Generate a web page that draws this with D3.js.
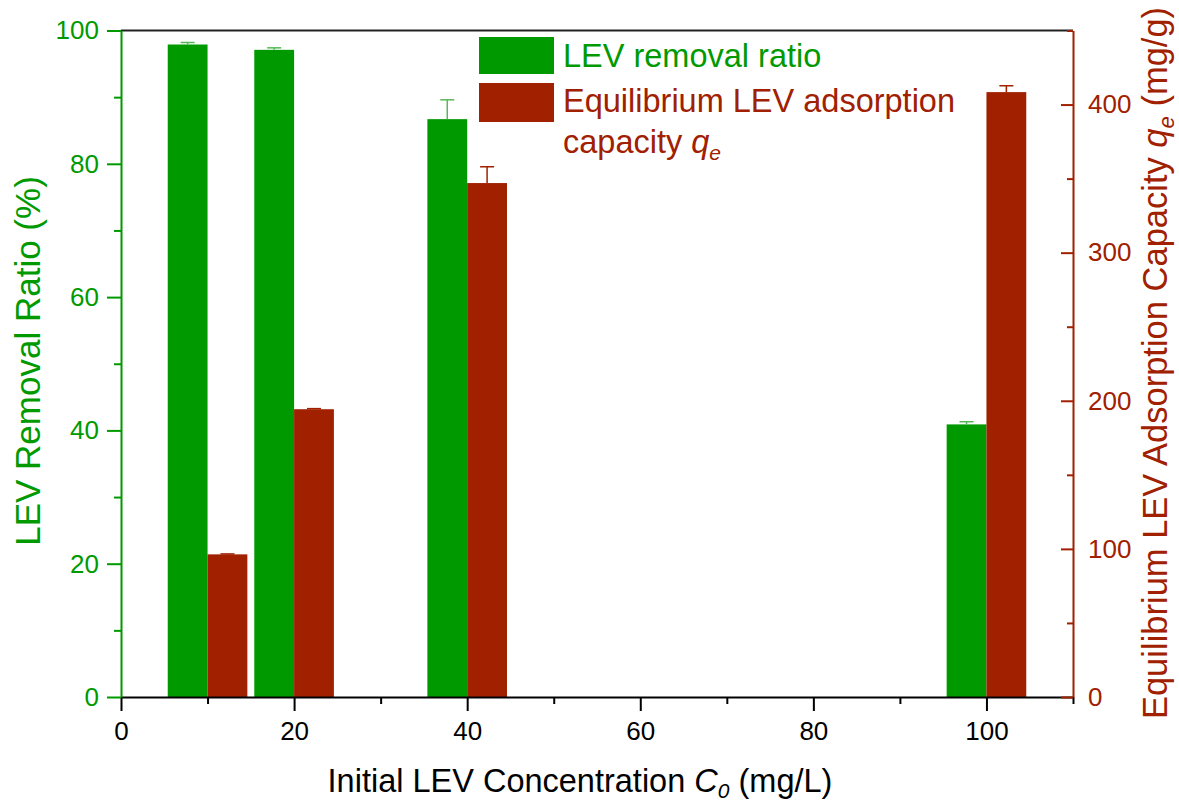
<!DOCTYPE html>
<html>
<head>
<meta charset="utf-8">
<script src="https://cdn.jsdelivr.net/npm/d3@7"></script>
<style>
  html, body { margin: 0; padding: 0; background: #fff; }
  svg { display: block; font-family: "Liberation Sans", Arial, sans-serif; }
</style>
</head>
<body>
<svg id="chart" width="1179" height="801"></svg>
<script>
// Initial LEV concentration (mg/L)
const concentrations = [10, 20, 40, 100];
// LEV removal ratio (%) and its error
const removalRatio = [97.9, 97.1, 86.7, 40.9];
const removalErr = [0.3, 0.3, 2.9, 0.4];
// Equilibrium adsorption capacity qe (mg/g) and its error
const capacity = [96.3, 194.3, 347, 408.4];
const capacityErr = [0.3, 0.4, 11, 4.3];

const xMajorTicks = [0, 20, 40, 60, 80, 100];
const xMinorTicks = [10, 30, 50, 70, 90, 110];
const leftMajorTicks = [0, 20, 40, 60, 80, 100];
const leftMinorTicks = [10, 30, 50, 70, 90];
const rightMajorTicks = [0, 100, 200, 300, 400];
const rightMinorTicks = [50, 150, 250, 350, 450];

const GREEN = "#009a00";
const RED = "#a02000";
const barWidthUnits = 4.6;

const svg = d3.select("#chart");
const plot = { left: 121, right: 1073, top: 30.5, bottom: 697 };

const x = d3.scaleLinear().domain([0, 110]).range([plot.left, plot.right]);
const yL = d3.scaleLinear().domain([0, 100]).range([plot.bottom, plot.top]);
const yR = d3.scaleLinear().domain([0, 450]).range([plot.bottom, plot.top]);
const bw = x(barWidthUnits) - x(0);

// Bars: removal ratio to the left of each concentration, capacity to the right
const g = svg.append("g");
g.selectAll("rect.rem").data(concentrations).join("rect")
  .attr("class", "rem")
  .attr("x", d => x(d) - bw)
  .attr("width", bw)
  .attr("y", (d, i) => yL(removalRatio[i]))
  .attr("height", (d, i) => yL(0) - yL(removalRatio[i]))
  .attr("fill", GREEN);
g.selectAll("rect.cap").data(concentrations).join("rect")
  .attr("class", "cap")
  .attr("x", d => x(d))
  .attr("width", bw)
  .attr("y", (d, i) => yR(capacity[i]))
  .attr("height", (d, i) => yR(0) - yR(capacity[i]))
  .attr("fill", RED);

// Upper error bars
function errorBars(cls, xs, vals, errs, scale, color) {
  const eg = svg.append("g").attr("class", cls)
    .attr("stroke", color).attr("stroke-width", 1.5).attr("fill", "none");
  concentrations.forEach((c, i) => {
    const cx = xs(c);
    eg.append("line").attr("x1", cx).attr("x2", cx)
      .attr("y1", scale(vals[i])).attr("y2", scale(vals[i] + errs[i]));
    eg.append("line").attr("x1", cx - 7).attr("x2", cx + 7)
      .attr("y1", scale(vals[i] + errs[i])).attr("y2", scale(vals[i] + errs[i]));
  });
}
errorBars("err-rem", c => x(c) - bw / 2, removalRatio, removalErr, yL, "#55b855");
errorBars("err-cap", c => x(c) + bw / 2, capacity, capacityErr, yR, RED);

// Top frame line
svg.append("line")
  .attr("x1", plot.left).attr("x2", plot.right)
  .attr("y1", plot.top).attr("y2", plot.top)
  .attr("stroke", "#222").attr("stroke-width", 2);

function styleAxis(sel, color, fontSize) {
  sel.select(".domain").attr("stroke", color).attr("stroke-width", 2);
  sel.selectAll(".tick line").attr("stroke", color).attr("stroke-width", 2);
  sel.selectAll(".tick text").attr("fill", color)
    .attr("font-size", fontSize).attr("font-family", "Liberation Sans, Arial, sans-serif");
}

// Bottom axis
const xAxisG = svg.append("g").attr("transform", `translate(0,${plot.bottom})`)
  .call(d3.axisBottom(x).tickValues(xMajorTicks).tickSize(14).tickSizeOuter(0).tickPadding(11));
styleAxis(xAxisG, "#000", 26);
const xMinorG = svg.append("g").attr("transform", `translate(0,${plot.bottom})`)
  .call(d3.axisBottom(x).tickValues(xMinorTicks).tickSize(7).tickFormat(""));
xMinorG.select(".domain").remove();
styleAxis(xMinorG, "#000", 26);

// Left axis
const yLG = svg.append("g").attr("transform", `translate(${plot.left},0)`)
  .call(d3.axisLeft(yL).tickValues(leftMajorTicks).tickSize(14).tickSizeOuter(0).tickPadding(8));
styleAxis(yLG, GREEN, 26);
const yLMinorG = svg.append("g").attr("transform", `translate(${plot.left},0)`)
  .call(d3.axisLeft(yL).tickValues(leftMinorTicks).tickSize(7).tickFormat(""));
yLMinorG.select(".domain").remove();
styleAxis(yLMinorG, GREEN, 26);

// Right axis (ticks point inward)
const yRG = svg.append("g").attr("transform", `translate(${plot.right},0)`)
  .call(d3.axisRight(yR).tickValues(rightMajorTicks).tickSizeInner(-12).tickSizeOuter(0).tickPadding(15));
styleAxis(yRG, RED, 26);
const yRMinorG = svg.append("g").attr("transform", `translate(${plot.right},0)`)
  .call(d3.axisRight(yR).tickValues(rightMinorTicks).tickSizeInner(-6).tickFormat(""));
yRMinorG.select(".domain").remove();
styleAxis(yRMinorG, RED, 26);

// Axis titles
const bottomTitle = svg.append("text")
  .attr("x", 580).attr("y", 792)
  .attr("text-anchor", "middle").attr("font-size", 32.5).attr("fill", "#000");
bottomTitle.append("tspan").text("Initial LEV Concentration ");
bottomTitle.append("tspan").attr("font-style", "italic").text("C");
bottomTitle.append("tspan").attr("font-style", "italic").attr("font-size", 21).attr("dy", 6).text("0");
bottomTitle.append("tspan").attr("dy", -6).text(" (mg/L)");

svg.append("text")
  .attr("transform", "translate(40,361) rotate(-90)")
  .attr("text-anchor", "middle").attr("font-size", 35).attr("fill", GREEN)
  .text("LEV Removal Ratio (%)");

const rightTitle = svg.append("text")
  .attr("transform", "translate(1167,363) rotate(-90)")
  .attr("text-anchor", "middle").attr("font-size", 34.5).attr("fill", RED);
rightTitle.append("tspan").text("Equilibrium LEV Adsorption Capacity ");
rightTitle.append("tspan").attr("font-style", "italic").text("q");
rightTitle.append("tspan").attr("font-style", "italic").attr("font-size", 22).attr("dy", 7).text("e");
rightTitle.append("tspan").attr("dy", -7).text(" (mg/g)");

// Legend
const legend = svg.append("g");
legend.append("rect").attr("x", 479).attr("y", 37).attr("width", 75).attr("height", 37).attr("fill", GREEN);
legend.append("rect").attr("x", 479).attr("y", 83).attr("width", 75).attr("height", 39).attr("fill", RED);
legend.append("text").attr("x", 563).attr("y", 67).attr("font-size", 32.5).attr("fill", GREEN)
  .text("LEV removal ratio");
legend.append("text").attr("x", 563).attr("y", 112).attr("font-size", 32.5).attr("fill", RED)
  .text("Equilibrium LEV adsorption");
const capLine = legend.append("text").attr("x", 563).attr("y", 153).attr("font-size", 32.5).attr("fill", RED);
capLine.append("tspan").text("capacity ");
capLine.append("tspan").attr("font-style", "italic").text("q");
capLine.append("tspan").attr("font-style", "italic").attr("font-size", 21).attr("dy", 7).text("e");
</script>
</body>
</html>
